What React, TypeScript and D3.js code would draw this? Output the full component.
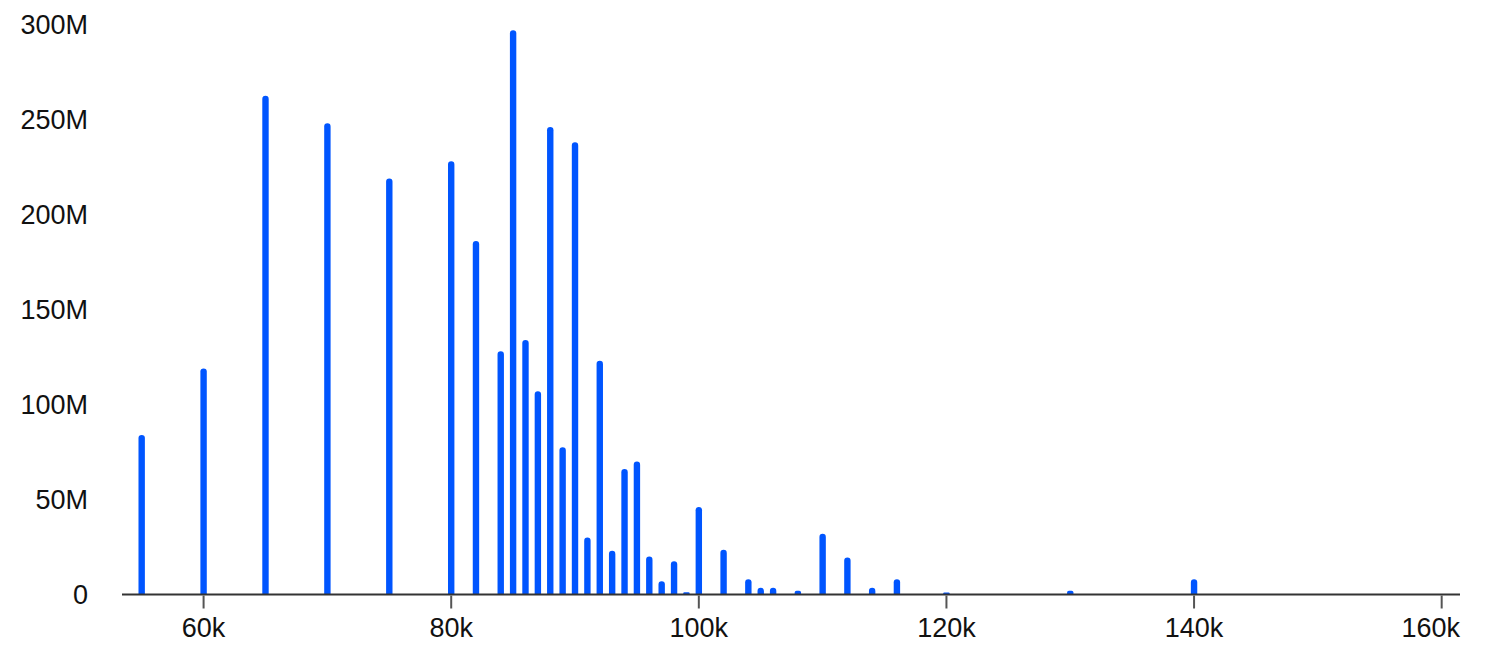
import { useEffect, useRef } from "react";
import * as d3 from "d3";

// salary buckets (in thousands) and total amount (in millions)
const salaries = [
  55, 60, 65, 70, 75, 80, 82, 84, 85, 86, 87, 88, 89, 90, 91, 92, 93, 94, 95, 96,
  97, 98, 99, 100, 102, 104, 105, 106, 108, 110, 112, 114, 116, 120, 130, 140,
];
const totals = [
  84, 119, 262.5, 248, 219, 228, 186, 128, 297, 134, 107, 246, 77.5, 238, 30, 123, 23, 66, 70, 20,
  7, 17.5, 1.2, 46, 23.5, 8, 3.5, 3.5, 2, 32, 19.5, 3.5, 8, 1, 2, 8,
];
const xTicks = [60, 80, 100, 120, 140, 160];
const yTicks = [0, 50, 100, 150, 200, 250, 300];

const App: React.FC = () => {
  const svgRef = useRef<SVGSVGElement | null>(null);

  useEffect(() => {
    if (!svgRef.current) return;
    const width = 1485;
    const height = 650;
    const svg = d3.select(svgRef.current);
    svg.selectAll("*").remove();

    const x = d3.scaleLinear().domain([53.41, 161.48]).range([122, 1460]);
    const y = d3.scaleLinear().domain([0, 300]).range([594.5, 24.5]);
    const font = "'Liberation Sans', Arial, sans-serif";

    const data = salaries.map((s, i) => ({ s, v: totals[i] }));
    const bw = 6.4;

    // bars with rounded top
    svg.append("g")
      .selectAll("path")
      .data(data)
      .enter()
      .append("path")
      .attr("fill", "#0055ff")
      .attr("d", d => {
        const p = d3.path();
        const cx = x(d.s);
        const y0 = y(0);
        const top = y(d.v);
        const r = Math.min(bw / 2, (y0 - top) / 2);
        p.moveTo(cx - bw / 2, y0);
        p.lineTo(cx - bw / 2, top + r);
        p.arcTo(cx - bw / 2, top, cx, top, r);
        p.arcTo(cx + bw / 2, top, cx + bw / 2, top + r, r);
        p.lineTo(cx + bw / 2, y0);
        p.closePath();
        return p.toString();
      });

    // x axis
    const xAxis = svg.append("g");
    xAxis.append("line")
      .attr("x1", 122).attr("x2", 1460)
      .attr("y1", y(0)).attr("y2", y(0))
      .attr("stroke", "#333").attr("stroke-width", 2);
    const tk = xAxis.selectAll("g.tick").data(xTicks).enter().append("g")
      .attr("transform", d => `translate(${x(d)},0)`);
    tk.append("line")
      .attr("y1", y(0) + 1).attr("y2", y(0) + 14)
      .attr("stroke", "#555").attr("stroke-width", 2);
    // last label is kept inside the plot edge
    tk.append("text")
      .attr("x", (d, i) => (i === xTicks.length - 1 ? 1460 - x(d) : 0))
      .attr("y", 628)
      .attr("text-anchor", (d, i) => (i === xTicks.length - 1 ? "end" : "middle"))
      .attr("dominant-baseline", "central")
      .attr("font-family", font)
      .attr("font-size", 27)
      .attr("fill", "#111")
      .text(d => `${d}k`);

    // y labels
    svg.append("g")
      .selectAll("text")
      .data(yTicks)
      .enter()
      .append("text")
      .attr("x", 88)
      .attr("y", d => y(d))
      .attr("text-anchor", "end")
      .attr("dominant-baseline", "central")
      .attr("font-family", font)
      .attr("font-size", 27)
      .attr("fill", "#111")
      .text(d => (d === 0 ? "0" : `${d}M`));

    svg.attr("width", width).attr("height", height);
  }, []);

  return (
    <svg
      ref={svgRef}
      width={1485}
      height={650}
      style={{ position: "absolute", left: 0, top: 0, background: "#fff" }}
    />
  );
};

export default App;
